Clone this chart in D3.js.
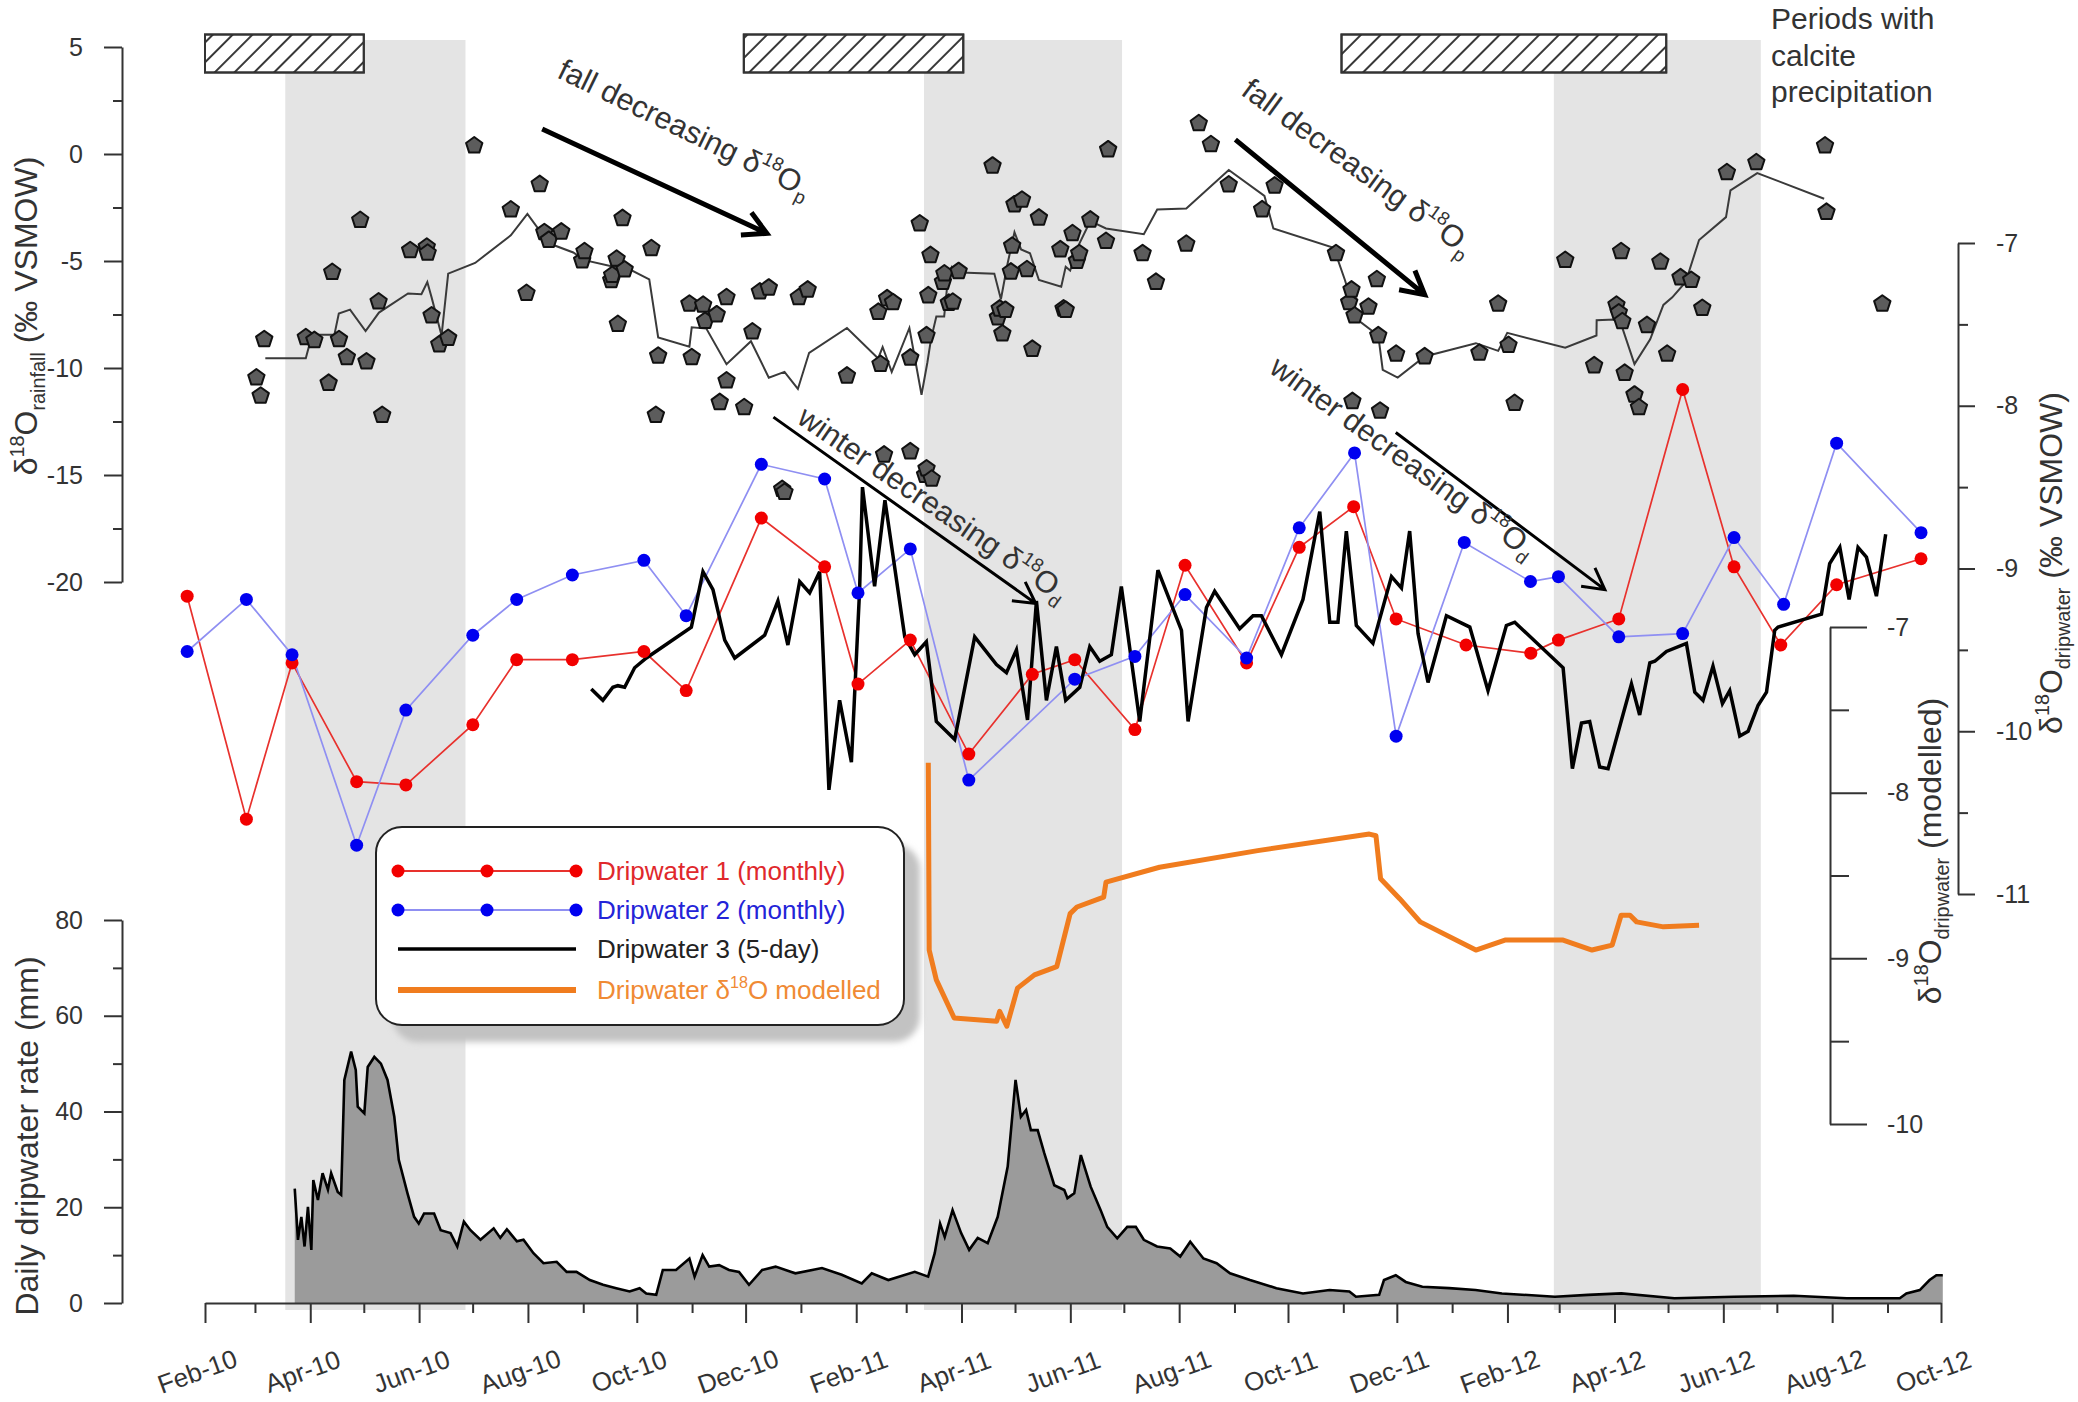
<!DOCTYPE html>
<html>
<head>
<meta charset="utf-8">
<script src="https://cdnjs.cloudflare.com/ajax/libs/d3/7.8.5/d3.min.js"></script>
<style>
  body { margin: 0; background: #fff; }
  svg { font-family: 'Liberation Sans', Arial, sans-serif; }
</style>
</head>
<body>
<div class="canvas"></div>
<script>
//================ data (x = days after 1 Feb 2010) ================//
const startDate = new Date(2010, 1, 1);
const endDate = new Date(2012, 9, 1);

// grey bands and hatched calcite boxes: [fromDay, toDay]
const wetPeriods = [[45, 146], [403, 514], [756, 872]];
const calcitePeriods = [[0, 89], [302, 425], [637, 819]];

// rainfall d18O samples [day, permil]
const rainfall = [
  [28.8,-10.45],[31.2,-11.3],[33.2,-8.66],[56.5,-8.57],[61.3,-8.7],[69.3,-10.7],[71.3,-5.52],[75.1,-8.66],
  [79.5,-9.5],[87,-3.09],[90.5,-9.7],[97.3,-6.9],[99.3,-12.2],[115,-4.5],[124.3,-4.34],[124.8,-4.62],
  [127,-7.55],[131.3,-8.9],[136.3,-8.6],[150.9,0.39],[171.4,-2.6],[180.2,-6.5],[187.6,-1.41],[190.2,-3.66],
  [192.7,-4.02],[199.7,-3.63],[211.4,-4.98],[212.7,-4.55],[227.7,-5.9],[228.2,-5.66],[230.7,-4.9],[231.4,-7.95],
  [234,-3.0],[235.2,-5.4],[250.2,-4.41],[252.7,-12.2],[254,-9.43],[271.5,-7.0],[272.8,-9.5],
  [279.2,-7.05],[280.3,-7.8],[286.8,-7.5],[288.5,-11.6],[292.3,-6.7],[292.3,-10.59],[302.2,-11.84],[306.8,-8.3],
  [311,-6.43],[316,-6.25],[323.5,-15.66],[324.8,-15.8],[332.8,-6.7],[337.8,-6.34],[359.8,-10.36],[377.4,-7.38],
  [378.6,-9.82],[380.6,-14.05],[382.3,-6.75],[385.6,-6.93],[395.3,-9.52],[395.3,-13.9],[400.6,-3.25],[403.6,-15.0],
  [404.4,-8.48],[404.4,-14.7],[405.4,-6.61],[406.6,-4.73],[407.3,-15.18],[413.6,-5.98],[414.4,-5.59],[416.9,-6.96],
  [419.1,-6.91],[422.4,-5.48],[441.4,-0.55],[444.4,-7.64],[445.4,-7.23],[446.9,-8.39],[448.6,-7.29],[451.7,-5.5],
  [452.4,-4.29],[453.7,-2.36],[457.9,-2.14],[460.7,-5.39],[463.7,-9.11],[467.4,-2.98],[479.4,-4.46],[481.2,-7.23],
  [482.4,-7.29],[486.2,-3.71],[488.7,-5.0],[490,-4.64],[496.2,-3.07],[505,-4.07],[506.2,0.21],[525.5,-4.64],
  [533,-5.98],[550,-4.2],[557,1.43],[563.8,0.45],[573.8,-1.43],[592.5,-2.59],[599.5,-1.48],[633.9,-4.64],
  [641.3,-6.93],[642.6,-6.34],[643.1,-11.55],[644.3,-7.55],[652.1,-7.14],[656.8,-5.86],[657.6,-8.48],[658.6,-12.0],
  [667.6,-9.34],[683.6,-9.46],[714.3,-9.29],[724.8,-7.0],[730.6,-8.93],[734,-11.64],[762.4,-4.96],[778.6,-9.88],
  [791.1,-7.05],[792.4,-7.41],[793.7,-4.55],[794.4,-7.82],[795.7,-10.23],[801.2,-11.25],[803.7,-11.84],[808.2,-8.0],
  [815.7,-5.04],[819.5,-9.34],[827,-5.77],[833,-5.89],[839.2,-7.2],[853,-0.86],[869.5,-0.39],[908,0.39],
  [908.8,-2.71],[940.1,-7.0]
];

// running mean of rainfall d18O
const rainfallMean = [
  [33.8,-9.55],[56.5,-9.55],[60,-8.45],[72.5,-8.45],[75,-7.45],[81.3,-7.27],[90,-8.27],[97.5,-7.41],
  [113.8,-6.52],[121.3,-6.55],[124.6,-5.98],[127,-6.7],[132.6,-8.48],[136.3,-5.59],[151.4,-5.09],[171.4,-3.8],
  [180.7,-2.8],[190.2,-3.88],[196.4,-4.29],[206.4,-4.6],[212.7,-4.96],[229,-5.27],[235.2,-5.27],[249,-5.86],
  [254,-8.57],[271.5,-9.0],[272.8,-8.1],[281,-8.16],[292.3,-9.82],[306,-8.75],[316,-10.45],[324.8,-10.18],
  [332.3,-10.98],[338.6,-9.29],[359.8,-8.13],[377.3,-9.55],[379.8,-9.02],[384.9,-10.18],[394.8,-8.13],[401.6,-11.25],
  [404.9,-9.73],[406.9,-8.66],[409.9,-7.59],[414.3,-7.59],[416.1,-6.07],[418.6,-5.27],[423.6,-5.54],[442.4,-5.59],
  [446.1,-6.79],[449.9,-5.09],[453.7,-3.66],[457.4,-4.46],[462.4,-4.64],[467.4,-5.89],[479.9,-6.2],[482.4,-5.27],
  [484.9,-5.45],[490,-4.2],[496.2,-3.13],[505,-3.48],[526.2,-3.75],[533.7,-2.59],[550,-2.55],[573.8,-0.75],
  [593.8,-1.96],[598.8,-3.48],[632.6,-4.38],[638.9,-5.89],[643.8,-7.23],[646.4,-7.77],[657.6,-8.48],[660.1,-10.09],
  [668.5,-10.45],[683.6,-9.46],[712.3,-8.84],[724.8,-9.2],[729.9,-8.36],[762.4,-9.05],[779.9,-8.48],[780,-7.77],
  [790,-7.73],[793.7,-7.95],[801.2,-9.82],[810,-8.66],[817.4,-7.05],[822.4,-6.7],[829.9,-5.98],[837.4,-4.02],
  [852.5,-2.95],[855,-1.7],[870,-0.89],[907.5,-2.09]
];

// dripwater d18O, monthly samples
const drip1 = [
  [-10,-9.17],[23.2,-10.54],[48.8,-9.58],[85,-10.31],[112.6,-10.33],[150.1,-9.96],[174.7,-9.56],[205.9,-9.56],
  [246,-9.51],[269.7,-9.75],[311.8,-8.69],[347.3,-8.99],[366,-9.71],[395.3,-9.44],[428.1,-10.14],[463.7,-9.65],
  [487.5,-9.56],[521.2,-9.99],[549.3,-8.98],[583.8,-9.58],[613.3,-8.87],[643.8,-8.62],[667.6,-9.31],[706.8,-9.47],
  [743.1,-9.52],[758.6,-9.44],[792.4,-9.31],[828.2,-7.90],[857,-8.99],[883.2,-9.47],[914.5,-9.10],[961.8,-8.94]
];
const drip2 = [
  [-10,-9.51],[23.2,-9.19],[48.8,-9.53],[85,-10.70],[112.6,-9.87],[150.1,-9.41],[174.7,-9.19],[205.9,-9.04],
  [246,-8.95],[269.7,-9.29],[311.8,-8.36],[347.3,-8.45],[366,-9.15],[395.3,-8.88],[428.1,-10.30],[487.5,-9.68],
  [521.2,-9.54],[549.3,-9.16],[583.8,-9.55],[613.3,-8.75],[644.3,-8.29],[667.6,-10.03],[705.8,-8.84],[742.9,-9.08],
  [758.6,-9.05],[792.4,-9.42],[828.2,-9.40],[857,-8.81],[884.8,-9.22],[914.5,-8.23],[961.8,-8.78]
];
// dripwater 3, 5-day samples
const drip3 = [
  [216.5,-9.74],[223,-9.81],[228.6,-9.73],[231.4,-9.72],[235.2,-9.73],[240.8,-9.61],[247.4,-9.55],[272.6,-9.36],
  [279.1,-9.02],[284.7,-9.13],[291.3,-9.44],[296.9,-9.55],[313.7,-9.41],[321.1,-9.2],[326.7,-9.47],[333.3,-9.08],
  [338.9,-9.15],[344.5,-9.02],[349.7,-10.36],[355.7,-9.81],[362.3,-10.19],[366.9,-9.13],[368.5,-8.5],[375.3,-9.11],
  [381.1,-8.58],[392.2,-9.42],[397.8,-9.53],[404.3,-9.45],[409.9,-9.94],[420.2,-10.05],[431.4,-9.42],[443.6,-9.59],
  [449.2,-9.64],[454.8,-9.5],[461,-9.93],[466,-9.2],[471.6,-9.81],[477.2,-9.48],[482.4,-9.81],[490.3,-9.73],
  [495.9,-9.48],[501.5,-9.57],[508,-9.53],[513.6,-9.11],[523.9,-9.94],[534.1,-9.01],[547.3,-9.38],[551,-9.94],
  [561.3,-9.24],[565.9,-9.14],[579.9,-9.37],[587.4,-9.29],[592.1,-9.29],[603.3,-9.53],[615.4,-9.19],[624.8,-8.65],
  [630.4,-9.33],[635,-9.33],[639.7,-8.77],[645.3,-9.35],[654.6,-9.46],[665,-9.05],[670.6,-9.12],[675.2,-8.77],
  [679.9,-9.4],[685.5,-9.7],[695.8,-9.29],[708.9,-9.36],[719.1,-9.75],[729.4,-9.35],[734.1,-9.33],[761.2,-9.61],
  [766.4,-10.23],[771.5,-9.95],[776.1,-9.94],[781.7,-10.22],[786.4,-10.23],[799.5,-9.71],[804.1,-9.9],[809.8,-9.58],
  [812.6,-9.57],[819.1,-9.51],[830.3,-9.46],[835,-9.76],[839.6,-9.81],[845.2,-9.6],[850.5,-9.83],[854.6,-9.75],
  [860.2,-10.03],[864.9,-10.0],[870.5,-9.84],[875.2,-9.76],[879.8,-9.38],[881.7,-9.36],[906,-9.28],[910.6,-8.97],
  [916.3,-8.87],[921.5,-9.19],[926.5,-8.87],[931.2,-8.93],[936.8,-9.17],[942,-8.79]
];
// modelled dripwater d18O
const dripModel = [
  [405.4,-7.82],[405.9,-8.95],[409.9,-9.13],[419.9,-9.36],[443.7,-9.38],[445.4,-9.32],[449.4,-9.41],[455.4,-9.18],
  [464.9,-9.1],[477.4,-9.05],[484.9,-8.73],[488.7,-8.69],[503.7,-8.63],[505,-8.54],[535,-8.45],[590,-8.35],
  [652.6,-8.25],[656.3,-8.26],[658.9,-8.52],[669.6,-8.64],[681.1,-8.78],[712.3,-8.95],[728.6,-8.89],[761.2,-8.89],
  [777.4,-8.95],[788.7,-8.92],[793.7,-8.74],[798.7,-8.74],[802.4,-8.78],[817.4,-8.81],[837.4,-8.8]
];
// daily dripwater rate (mm)
const dripRate = [
  [50.3,23.9],[52.1,13.2],[54,18],[55.8,11.8],[57.7,20.1],[59.6,11.1],[60.7,25.7],[63.3,21.5],[65.9,27.1],
  [68.9,23.7],[70.7,27.1],[74.4,23.2],[76.3,22.6],[78.1,46.6],[81.9,52.5],[84.5,48.7],[85.6,41],[89.3,39.6],
  [91.2,49.3],[94.9,51.4],[98.6,50],[102.3,46.6],[106.1,38.9],[108.6,29.9],[113.5,22.9],[117.2,18],[119.8,16.6],
  [122.8,18.7],[128.4,18.7],[132.1,15.2],[137.6,14.6],[141.4,11.8],[145.1,17],[148.8,15.2],[154.4,13.2],
  [161.8,15.6],[165.5,13.6],[169.2,15.4],[174.8,12.9],[178.5,13.2],[184.1,10.4],[189.7,8.3],[197.1,8.6],
  [202.7,6.5],[208.2,6.5],[215.7,4.8],[223.1,3.8],[230.5,3.1],[238,2.4],[243.6,3.1],[247.3,2],[252.9,1.7],
  [256.6,6.9],[264,6.9],[271.5,9.3],[274.4,5.5],[278.9,10],[282.6,7.6],[288.2,7.9],[293.7,6.9],[299.3,6.5],
  [304.9,3.8],[312.3,6.9],[319.8,7.6],[330.9,6.2],[345.8,7.3],[356.9,5.9],[368.1,4.1],[373.7,6.2],[383,4.8],
  [397.8,6.5],[405.3,5.5],[409,10.4],[412,16.6],[414.6,13.8],[419,19.4],[423.8,14.6],[428.3,11.1],[433.1,13.6],
  [438.7,12.5],[444.3,18],[449.9,28.5],[454.3,46.6],[457.3,38.9],[460.2,40.3],[462.9,36.1],[466.7,36.1],
  [470.4,31.3],[476,24.6],[481.6,23.6],[483.4,21.9],[487.2,22.9],[490.9,30.9],[496.4,24.3],[502,19.4],
  [505.7,15.9],[511.3,13.5],[516.9,15.9],[521.7,15.9],[526.2,13.2],[533.6,11.8],[541,11.4],[546.6,9.7],
  [552.2,12.8],[559.6,9.3],[567,8.3],[574.5,6.2],[585.7,4.8],[600.5,3.1],[615.4,2],[630.3,2.7],[641.4,2.4],
  [645.1,1.3],[658.1,1.7],[660.8,4.8],[667.4,5.8],[673,4.4],[682.3,3.4],[697.3,3.1],[712.1,2.7],[726.9,2],
  [756.6,1.3],[775.2,1.7],[793.8,2],[823.6,1],[857,1.3],[890.5,1.5],[920.2,1],[949.9,1],[953.6,2],
  [961.1,2.7],[966.6,4.8],[970.4,5.8],[974,5.8]
];

const rainTicks = [5, 0, -5, -10, -15, -20];
const rateTicks = [0, 20, 40, 60, 80];
const dripTicks = [-7, -8, -9, -10, -11];
const modelTicks = [-7, -8, -9, -10];
const legendLabels = ['Dripwater 1 (monthly)', 'Dripwater 2 (monthly)', 'Dripwater 3 (5-day)', 'Dripwater δ18O modelled'];
//==================================================================//

const svg = d3.select('.canvas')
    .append('svg')
    .attr('width', 2078)
    .attr('height', 1402);

const toDate = d => new Date(startDate.getTime() + d * 864e5);

const x = d3.scaleTime().domain([startDate, endDate]).range([205, 1941]);
const yRain = d3.scaleLinear().domain([-20, 5]).range([582, 47]);
const yRate = d3.scaleLinear().domain([0, 80]).range([1303, 920]);
const yDrip = d3.scaleLinear().domain([-11, -7]).range([894, 243]);
const yModel = d3.scaleLinear().domain([-10, -7]).range([1124, 627]);

const ink = '#333';
const defs = svg.append('defs');
defs.append('pattern')
    .attr('id', 'hatch')
    .attr('patternUnits', 'userSpaceOnUse')
    .attr('width', 14).attr('height', 14)
    .attr('patternTransform', 'rotate(45)')
    .append('line')
    .attr('x1', 7).attr('y1', -2).attr('x2', 7).attr('y2', 16)
    .attr('stroke', '#222').attr('stroke-width', 1.8);
defs.append('filter').attr('id', 'blur')
    .append('feGaussianBlur').attr('stdDeviation', 3);

// grey wet season bands
svg.append('g').selectAll('rect')
    .data(wetPeriods)
    .join('rect')
    .attr('x', d => x(toDate(d[0])))
    .attr('width', d => x(toDate(d[1])) - x(toDate(d[0])))
    .attr('y', 40)
    .attr('height', 1270)
    .attr('fill', '#e4e4e4');

// calcite precipitation boxes
const boxes = svg.append('g');
['#fff', 'url(#hatch)'].forEach(fill => {
    boxes.append('g').selectAll('rect')
        .data(calcitePeriods)
        .join('rect')
        .attr('x', d => x(toDate(d[0])))
        .attr('width', d => x(toDate(d[1])) - x(toDate(d[0])))
        .attr('y', 34.5)
        .attr('height', 38)
        .attr('fill', fill)
        .attr('stroke', ink)
        .attr('stroke-width', 2);
});

const periodsText = svg.append('text')
    .attr('font-size', 30).attr('fill', ink);
['Periods with', 'calcite', 'precipitation'].forEach((t, i) => {
    periodsText.append('tspan').attr('x', 1771).attr('y', 29 + i * 36.5).text(t);
});

// rich text helper (super/subscripts)
const rich = (sel, parts, fs) => {
    let shift = 0;
    parts.forEach(p => {
        const target = p.sup ? -0.42 * fs : p.sub ? 0.24 * fs : 0;
        sel.append('tspan')
            .attr('dy', target - shift)
            .attr('font-size', (p.sup || p.sub) ? fs * 0.62 : fs)
            .text(p.t);
        shift = target;
    });
};

//===================== axes =====================//
const styleAxis = g => {
    g.selectAll('.domain').attr('stroke', ink).attr('stroke-width', 2);
    g.selectAll('.tick line').attr('stroke', ink).attr('stroke-width', 2);
    g.selectAll('.tick text').attr('fill', ink).attr('font-size', 25)
        .attr('font-family', "'Liberation Sans', Arial, sans-serif");
};
const minorOf = ticks => d3.range(ticks.length - 1).map(i => (ticks[i] + ticks[i + 1]) / 2);

const addYAxis = (axisFn, scale, xPos, major, size, pad) => {
    const g = svg.append('g').attr('transform', `translate(${xPos},0)`);
    g.append('g').call(axisFn(scale).tickValues(minorOf(major)).tickSize(size[1]).tickFormat('').tickSizeOuter(0))
        .call(s => s.select('.domain').remove());
    g.append('g').call(axisFn(scale).tickValues(major).tickSize(size[0]).tickPadding(pad)
        .tickSizeOuter(0).tickFormat(d => String(d)));
    styleAxis(g);
    return g;
};

addYAxis(d3.axisLeft, yRain, 122, rainTicks, [18, 9], 21);
addYAxis(d3.axisLeft, yRate, 122, rateTicks, [18, 9], 21);
addYAxis(d3.axisRight, yDrip, 1958, dripTicks, [17, 10], 21);
addYAxis(d3.axisRight, yModel, 1830, modelTicks, [37, 19], 20);

//=========== drip rate area ===========//
svg.append('path')
    .datum(dripRate)
    .attr('d', d3.area().x(d => x(toDate(d[0]))).y0(yRate(0)).y1(d => yRate(d[1])))
    .attr('fill', '#9b9b9b');
svg.append('path')
    .datum(dripRate)
    .attr('d', d3.line().x(d => x(toDate(d[0]))).y(d => yRate(d[1])))
    .attr('fill', 'none').attr('stroke', '#000').attr('stroke-width', 2.6);

// x axis
const xAxisGroup = svg.append('g').attr('transform', `translate(0,${yRate(0)})`);
const majorMonths = d3.timeMonth.range(startDate, d3.timeDay.offset(endDate, 1), 2);
const minorMonths = d3.timeMonth.range(d3.timeMonth.offset(startDate, 1), endDate, 2);
xAxisGroup.append('g')
    .call(d3.axisBottom(x).tickValues(minorMonths).tickSize(10).tickFormat('').tickSizeOuter(0))
    .call(s => s.select('.domain').remove());
xAxisGroup.append('g')
    .call(d3.axisBottom(x).tickValues(majorMonths).tickSize(20).tickSizeOuter(0)
        .tickFormat(d3.timeFormat('%b-%y')));
styleAxis(xAxisGroup);
xAxisGroup.selectAll('.tick text')
    .attr('font-size', 26)
    .attr('text-anchor', 'middle')
    .attr('x', 0).attr('y', 0).attr('dy', 0)
    .attr('transform', 'translate(-5,77) rotate(-20)');

//=========== rainfall ===========//
svg.append('path')
    .datum(rainfallMean)
    .attr('d', d3.line().x(d => x(toDate(d[0]))).y(d => yRain(d[1])))
    .attr('fill', 'none').attr('stroke', '#3a3a3a').attr('stroke-width', 2);

const pentagon = r => 'M' + d3.range(5).map(i => {
    const a = -Math.PI / 2 + i * 2 * Math.PI / 5;
    return [r * Math.cos(a), r * Math.sin(a)];
}).join('L') + 'Z';

svg.append('g').selectAll('path')
    .data(rainfall)
    .join('path')
    .attr('d', pentagon(8.6))
    .attr('transform', d => `translate(${x(toDate(d[0]))},${yRain(d[1])})`)
    .attr('fill', '#5c5c5c')
    .attr('stroke', '#111')
    .attr('stroke-width', 2)
    .attr('stroke-linejoin', 'round');

//=========== dripwater series ===========//
const lineDrip = d3.line().x(d => x(toDate(d[0]))).y(d => yDrip(d[1]));

svg.append('path')
    .datum(dripModel)
    .attr('d', d3.line().x(d => x(toDate(d[0]))).y(d => yModel(d[1])))
    .attr('fill', 'none').attr('stroke', '#f07c1e').attr('stroke-width', 5)
    .attr('stroke-linejoin', 'round');

const monthly = [
    { data: drip1, line: '#e8312d', dot: '#f20000' },
    { data: drip2, line: '#8f8ff2', dot: '#0000f0' }
];
monthly.forEach(s => {
    svg.append('path').datum(s.data).attr('d', lineDrip)
        .attr('fill', 'none').attr('stroke', s.line).attr('stroke-width', 1.7);
});

svg.append('path')
    .datum(drip3)
    .attr('d', lineDrip)
    .attr('fill', 'none').attr('stroke', '#000').attr('stroke-width', 3.5)
    .attr('stroke-linejoin', 'miter');

monthly.forEach(s => {
    svg.append('g').selectAll('circle')
        .data(s.data)
        .join('circle')
        .attr('cx', d => x(toDate(d[0])))
        .attr('cy', d => yDrip(d[1]))
        .attr('r', 6.5)
        .attr('fill', s.dot);
});

//=========== legend ===========//
const legend = svg.append('g');
legend.append('rect')
    .attr('x', 392).attr('y', 844).attr('width', 528).attr('height', 198).attr('rx', 26)
    .attr('fill', '#c2c2c2').attr('filter', 'url(#blur)');
legend.append('rect')
    .attr('x', 376).attr('y', 827).attr('width', 528).attr('height', 198).attr('rx', 26)
    .attr('fill', '#fff').attr('stroke', '#222').attr('stroke-width', 2);

const legendRows = [
    { y: 871, stroke: '#e8312d', w: 2, dot: '#f20000', text: '#e0282c' },
    { y: 910, stroke: '#8f8ff2', w: 2, dot: '#0000f0', text: '#2424d8' },
    { y: 949, stroke: '#000', w: 3.5, dot: null, text: '#222' },
    { y: 990, stroke: '#f07c1e', w: 6, dot: null, text: '#f08a34' }
];
legendRows.forEach((r, i) => {
    legend.append('line')
        .attr('x1', 398).attr('x2', 576).attr('y1', r.y).attr('y2', r.y)
        .attr('stroke', r.stroke).attr('stroke-width', r.w);
    if (r.dot) {
        [398, 487, 576].forEach(cx => legend.append('circle')
            .attr('cx', cx).attr('cy', r.y).attr('r', 6.5).attr('fill', r.dot));
    }
    const t = legend.append('text').attr('x', 597).attr('y', r.y + 9).attr('fill', r.text).attr('font-size', 26);
    if (i === 3) {
        rich(t, [{ t: 'Dripwater δ' }, { t: '18', sup: true }, { t: 'O modelled' }], 26);
    } else {
        t.text(legendLabels[i]);
    }
});

//=========== annotations ===========//
const arrows = [
    { s: yRain, from: [189, 1.17], to: [314.9, -3.71], w: 5, head: 26 },
    { s: yRain, from: [577.5, 0.67], to: [683.6, -6.57], w: 5, head: 26 },
    { s: yDrip, from: [318.6, -8.07], to: [465.6, -9.215], w: 3, head: 24 },
    { s: yDrip, from: [667.4, -8.164], to: [784.6, -9.13], w: 3, head: 24 }
];
arrows.forEach(a => {
    const x0 = x(toDate(a.from[0])), y0 = a.s(a.from[1]);
    const x1 = x(toDate(a.to[0])), y1 = a.s(a.to[1]);
    const ang = Math.atan2(y1 - y0, x1 - x0);
    const b = 0.5;
    const p1 = [x1 - a.head * Math.cos(ang - b), y1 - a.head * Math.sin(ang - b)];
    const p2 = [x1 - a.head * Math.cos(ang + b), y1 - a.head * Math.sin(ang + b)];
    svg.append('path')
        .attr('d', `M${x0},${y0}L${x1},${y1}M${p1}L${x1},${y1}L${p2}`)
        .attr('fill', 'none').attr('stroke', '#000').attr('stroke-width', a.w)
        .attr('stroke-linejoin', 'miter');
});

const notes = [
    { s: yRain, at: [196.6, 3.6], angle: 26, parts: [{ t: 'fall decreasing δ' }, { t: '18', sup: true }, { t: 'O' }, { t: 'p', sub: true }] },
    { s: yRain, at: [580, 2.8], angle: 36, parts: [{ t: 'fall decreasing δ' }, { t: '18', sup: true }, { t: 'O' }, { t: 'p', sub: true }] },
    { s: yDrip, at: [331, -8.1], angle: 34.5, parts: [{ t: 'winter decreasing δ' }, { t: '18', sup: true }, { t: 'O' }, { t: 'd', sub: true }] },
    { s: yDrip, at: [595.7, -7.79], angle: 36, parts: [{ t: 'winter decreasing δ' }, { t: '18', sup: true }, { t: 'O' }, { t: 'd', sub: true }] }
];
notes.forEach(n => {
    const t = svg.append('text')
        .attr('transform', `translate(${x(toDate(n.at[0]))},${n.s(n.at[1])}) rotate(${n.angle})`)
        .attr('font-size', 30.5).attr('fill', ink);
    rich(t, n.parts, 30.5);
});

//=========== axis titles ===========//
const title = (px, py, parts) => {
    const t = svg.append('text')
        .attr('transform', `translate(${px},${py}) rotate(-90)`)
        .attr('text-anchor', 'middle')
        .attr('font-size', 32).attr('fill', ink);
    rich(t, parts, 32);
};
title(37, 316, [{ t: 'δ' }, { t: '18', sup: true }, { t: 'O' }, { t: 'rainfall', sub: true }, { t: ' (‰ VSMOW)' }]);
title(38, 1136, [{ t: 'Daily dripwater rate (mm)' }]);
title(2062, 563, [{ t: 'δ' }, { t: '18', sup: true }, { t: 'O' }, { t: 'dripwater', sub: true }, { t: ' (‰ VSMOW)' }]);
title(1941, 851, [{ t: 'δ' }, { t: '18', sup: true }, { t: 'O' }, { t: 'dripwater', sub: true }, { t: ' (modelled)' }]);
</script>
</body>
</html>
